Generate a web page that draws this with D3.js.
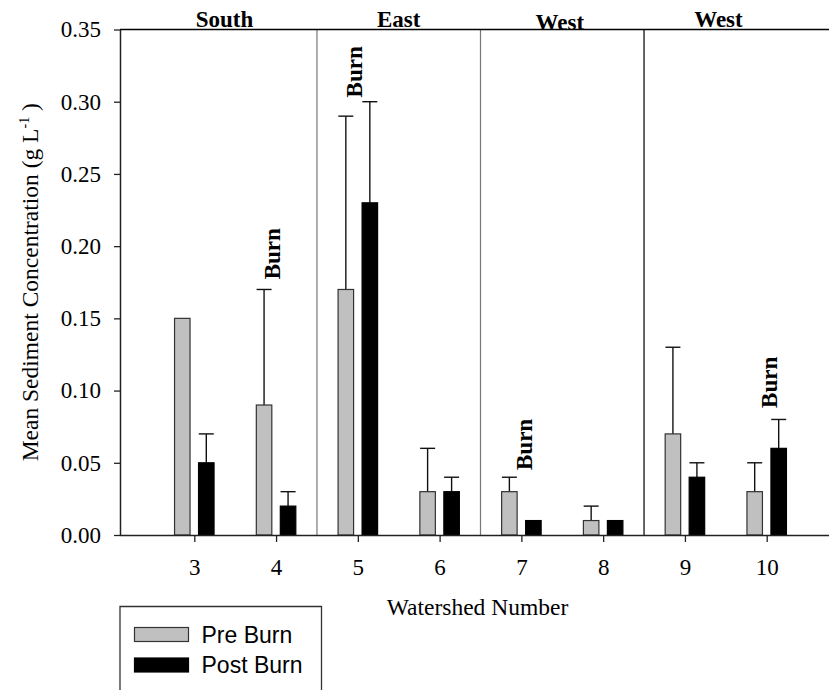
<!DOCTYPE html>
<html>
<head>
<meta charset="utf-8">
<script src="https://cdn.jsdelivr.net/npm/d3@7"></script>
<style>
  body { margin: 0; background: #fff; }
  svg { display: block; }
</style>
</head>
<body>
<svg id="chart"></svg>
<script>
// Data
const watersheds = [3, 4, 5, 6, 7, 8, 9, 10];
const preBurn    = [0.15, 0.09, 0.17, 0.03, 0.03, 0.01, 0.07, 0.03];
const preErr     = [0.00, 0.08, 0.12, 0.03, 0.01, 0.01, 0.06, 0.02];
const postBurn   = [0.05, 0.02, 0.23, 0.03, 0.01, 0.01, 0.04, 0.06];
const postErr    = [0.02, 0.01, 0.07, 0.01, 0.00, 0.00, 0.01, 0.02];

const yTicks = [0.00, 0.05, 0.10, 0.15, 0.20, 0.25, 0.30, 0.35];

const regionNames = ["South", "East", "West", "West"];
const regionX     = [3.37, 5.5, 7.47, 9.41];
const separators  = [4.5, 6.5, 8.5];
const separatorColors = ["#777", "#777", "#000"];

// "Burn" markers: watershed position (baseline) and value where the text starts
const burnX = [4.05, 5.05, 7.13, 10.12];
const burnY = [0.177, 0.303, 0.045, 0.088];

const legendLabels = ["Pre Burn", "Post Burn"];
const seriesColors = ["#c0c0c0", "#000000"];

// Layout
const width = 829, height = 690;
const mLeft = 120, mRight = 829, mTop = 29.5, mBottom = 535;
const barW = 15.5, barOff = 12;
const serif = "'Liberation Serif', 'Times New Roman', serif";
const sans = "'Liberation Sans', Arial, sans-serif";

const svg = d3.select("#chart")
    .attr("width", width)
    .attr("height", height);

const x = d3.scaleLinear().domain([2.0914, 10.762]).range([mLeft, mRight]);
const y = d3.scaleLinear().domain([0, 0.35]).range([mBottom, mTop]);

// Build rows for both series
const rows = [];
watersheds.forEach((w, i) => {
    rows.push({ w: w, v: preBurn[i], e: preErr[i], s: 0 });
    rows.push({ w: w, v: postBurn[i], e: postErr[i], s: 1 });
});
const cx = d => x(d.w) + (d.s === 0 ? -barOff : barOff);

// Region separators
svg.selectAll(".sep")
    .data(separators)
    .enter().append("line")
    .attr("class", "sep")
    .attr("x1", d => x(d)).attr("x2", d => x(d))
    .attr("y1", y(0.35)).attr("y2", y(0))
    .attr("stroke", (d, i) => separatorColors[i])
    .attr("stroke-width", 1.2);

// Error bars (drawn first so bars cover the bottom of the whisker)
const eb = svg.selectAll(".err")
    .data(rows.filter(d => d.e > 0))
    .enter().append("g")
    .attr("class", "err")
    .attr("stroke", "#111")
    .attr("stroke-width", 1.4);
eb.append("line")
    .attr("x1", cx).attr("x2", cx)
    .attr("y1", d => y(d.v)).attr("y2", d => y(d.v + d.e));
eb.append("line")
    .attr("x1", d => cx(d) - 7.5).attr("x2", d => cx(d) + 7.5)
    .attr("y1", d => y(d.v + d.e)).attr("y2", d => y(d.v + d.e));

// Bars
svg.selectAll(".bar")
    .data(rows)
    .enter().append("rect")
    .attr("class", "bar")
    .attr("x", d => cx(d) - barW / 2)
    .attr("width", barW)
    .attr("y", d => y(d.v))
    .attr("height", d => y(0) - y(d.v))
    .attr("fill", d => seriesColors[d.s])
    .attr("stroke", d => d.s === 0 ? "#333" : "#000")
    .attr("stroke-width", 1.2);

// Y axis
const yAxis = svg.append("g")
    .attr("transform", `translate(${mLeft},0)`)
    .call(d3.axisLeft(y).tickValues(yTicks).tickFormat(d3.format(".2f"))
        .tickSize(6).tickSizeOuter(0).tickPadding(13));

// X axis
const xAxis = svg.append("g")
    .attr("transform", `translate(0,${mBottom})`)
    .call(d3.axisBottom(x).tickValues(watersheds).tickFormat(d3.format("d"))
        .tickSize(7).tickSizeOuter(0).tickPadding(17));
xAxis.select(".domain").attr("d", `M${mLeft},0.5H${mRight}`);

[yAxis, xAxis].forEach(a => {
    a.attr("font-family", serif).attr("font-size", 23);
    a.select(".domain").attr("stroke", "#222").attr("stroke-width", 1.5);
    a.selectAll(".tick line").attr("stroke", "#222").attr("stroke-width", 1.3);
    a.selectAll("text")
        .style("font-family", serif)
        .style("font-size", "23px")
        .attr("fill", "#000");
});

// Top frame line
svg.append("line")
    .attr("x1", mLeft).attr("x2", mRight)
    .attr("y1", mTop).attr("y2", mTop)
    .attr("stroke", "#000").attr("stroke-width", 1.5);

// Region labels
svg.selectAll(".region")
    .data(regionNames)
    .enter().append("text")
    .attr("class", "region")
    .attr("x", (d, i) => x(regionX[i]))
    .attr("y", (d, i) => i === 2 ? 30 : 27)
    .attr("text-anchor", "middle")
    .attr("font-family", serif)
    .attr("font-weight", "bold")
    .attr("font-size", 23)
    .text(d => d);

// Burn labels
svg.selectAll(".burn")
    .data(burnX)
    .enter().append("text")
    .attr("class", "burn")
    .attr("transform", (d, i) => `translate(${x(d)},${y(burnY[i])}) rotate(-90)`)
    .attr("font-family", serif)
    .attr("font-weight", "bold")
    .attr("font-size", 23)
    .text("Burn");

// Axis titles
const yTitle = svg.append("text")
    .attr("transform", `translate(38,${(mTop + mBottom) / 2}) rotate(-90)`)
    .attr("text-anchor", "middle")
    .attr("font-family", serif)
    .attr("font-size", 23.5);
yTitle.append("tspan").text("Mean Sediment Concentration (g L");
yTitle.append("tspan").attr("font-size", 14).attr("dy", -9).text("-1");
yTitle.append("tspan").attr("dy", 9).text(" )");

svg.append("text")
    .attr("x", (mLeft + mRight) / 2 + 3)
    .attr("y", 615)
    .attr("text-anchor", "middle")
    .attr("font-family", serif)
    .attr("font-size", 23.5)
    .text("Watershed Number");

// Legend
const legend = svg.append("g");
legend.append("path")
    .attr("d", "M120,700V606.5H321.5V700")
    .attr("fill", "none")
    .attr("stroke", "#333")
    .attr("stroke-width", 1.3);
const li = legend.selectAll(".li")
    .data(legendLabels)
    .enter().append("g")
    .attr("class", "li")
    .attr("transform", (d, i) => `translate(0,${i * 30.5})`);
li.append("rect")
    .attr("x", 134.5).attr("y", 627.5)
    .attr("width", 54).attr("height", 14)
    .attr("fill", (d, i) => seriesColors[i])
    .attr("stroke", (d, i) => i === 0 ? "#333" : "#000")
    .attr("stroke-width", 1.2);
li.append("text")
    .attr("x", 201.5).attr("y", 642.5)
    .attr("font-family", sans)
    .attr("font-size", 23)
    .text(d => d);
</script>
</body>
</html>
